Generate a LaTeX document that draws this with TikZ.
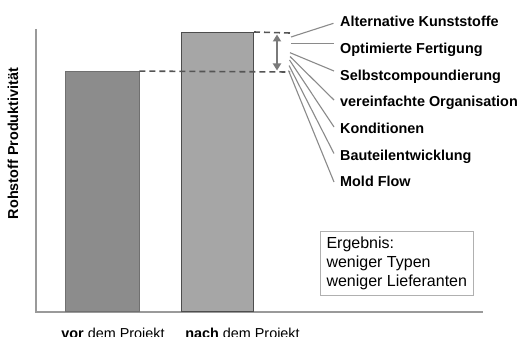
\documentclass[tikz,border=0pt]{standalone}
\usepackage{fontspec}
\setmainfont{Liberation Sans}
\usetikzlibrary{arrows.meta}
\definecolor{barA}{HTML}{8C8C8C}
\definecolor{barAline}{HTML}{707070}
\definecolor{barB}{HTML}{A6A6A6}
\definecolor{barBline}{HTML}{4D4D4D}
\definecolor{axisgray}{HTML}{9A9A9A}
\definecolor{dashgray}{HTML}{555555}
\definecolor{arrgray}{HTML}{7A7A7A}
\definecolor{fangray}{HTML}{8A8A8A}
\definecolor{boxgray}{HTML}{B0B0B0}
\tikzset{
  barone/.style={fill=barA, draw=barAline, line width=0.9pt, inner sep=0pt, anchor=south west},
  bartwo/.style={fill=barB, draw=barBline, line width=1pt, inner sep=0pt, anchor=south west},
  axisline/.style={draw=axisgray, line width=1.3pt},
  levelline/.style={draw=dashgray, line width=1.6pt, dash pattern=on 6pt off 4pt},
  gainarrow/.style={draw=arrgray, line width=2.6pt, {Triangle[width=8pt,length=7pt]}-{Triangle[width=8pt,length=7pt]}},
  fanline/.style={draw=fangray, line width=1.1pt},
  reason/.style={font=\fontsize{14.4}{17}\selectfont\bfseries, anchor=base west, inner sep=0pt},
  xlab/.style={font=\fontsize{14.4}{17}\selectfont, anchor=base, inner sep=0pt},
  resbox/.style={draw=boxgray, line width=1pt, align=left, anchor=north west, inner xsep=6pt, inner ysep=5.5pt, font=\fontsize{16}{19}\selectfont}
}
\begin{document}
\begin{tikzpicture}[x=1pt,y=-1pt]
\useasboundingbox[fill=white] (0,0) rectangle (519,337);
% axes
\coordinate (ytop) at (36,29);
\coordinate (orig) at (36,312);
\coordinate (xend) at (483,312);
\draw[axisline] (ytop) -- (orig) -- (xend);
% bars
\node[barone, minimum width=73.5pt, minimum height=240pt] (b1) at (65,312) {};
\node[bartwo, minimum width=72pt, minimum height=279pt] (b2) at (181,312) {};
% level lines
\coordinate (lowend) at (290,72);
\coordinate (highend) at (290,33);
\draw[levelline] (b1.north east) -- (lowend);
\draw[levelline] (b2.north east) -- (highend);
% gain arrow
\coordinate (atop) at (277,34.5);
\coordinate (abot) at (277,70.5);
\draw[gainarrow] (atop) -- (abot);
% reasons
\node[reason] (r1) at (340,26.7) {Alternative Kunststoffe};
\node[reason] (r2) at (340,53.4) {Optimierte Fertigung};
\node[reason] (r3) at (340,80.1) {Selbstcompoundierung};
\node[reason] (r4) at (340,106.8) {vereinfachte Organisation};
\node[reason] (r5) at (340,133.5) {Konditionen};
\node[reason] (r6) at (340,160.2) {Bauteilentwicklung};
\node[reason] (r7) at (340,186.9) {Mold Flow};
% fan lines
\coordinate (s1) at (291,37);
\coordinate (s2) at (291,43.3);
\coordinate (s3) at (290,52.7);
\coordinate (s4) at (290,56.5);
\coordinate (s5) at (289.5,60);
\coordinate (s6) at (289,65.5);
\coordinate (s7) at (288.5,70.5);
\coordinate (e1) at (333.5,23.3);
\coordinate (e2) at (333.5,43.3);
\coordinate (e3) at (334,71);
\coordinate (e4) at (334,100);
\coordinate (e5) at (334,127);
\coordinate (e6) at (334,153.5);
\coordinate (e7) at (334,182);
\foreach \i in {1,...,7}{\draw[fanline] (s\i) -- (e\i);}
% y label
\node[font=\fontsize{14.4}{17}\selectfont\bfseries, rotate=90, inner sep=0pt] (ylab) at (13,143.5) {Rohstoff Produktivität};
% x labels
\node[xlab] (x1) at (113,338.6) {\textbf{vor} dem Projekt};
\node[xlab] (x2) at (242.5,338.6) {\textbf{nach} dem Projekt};
% result box
\node[resbox] (res) at (320,231) {Ergebnis:\\weniger Typen\\weniger Lieferanten};
\end{tikzpicture}
\end{document}
